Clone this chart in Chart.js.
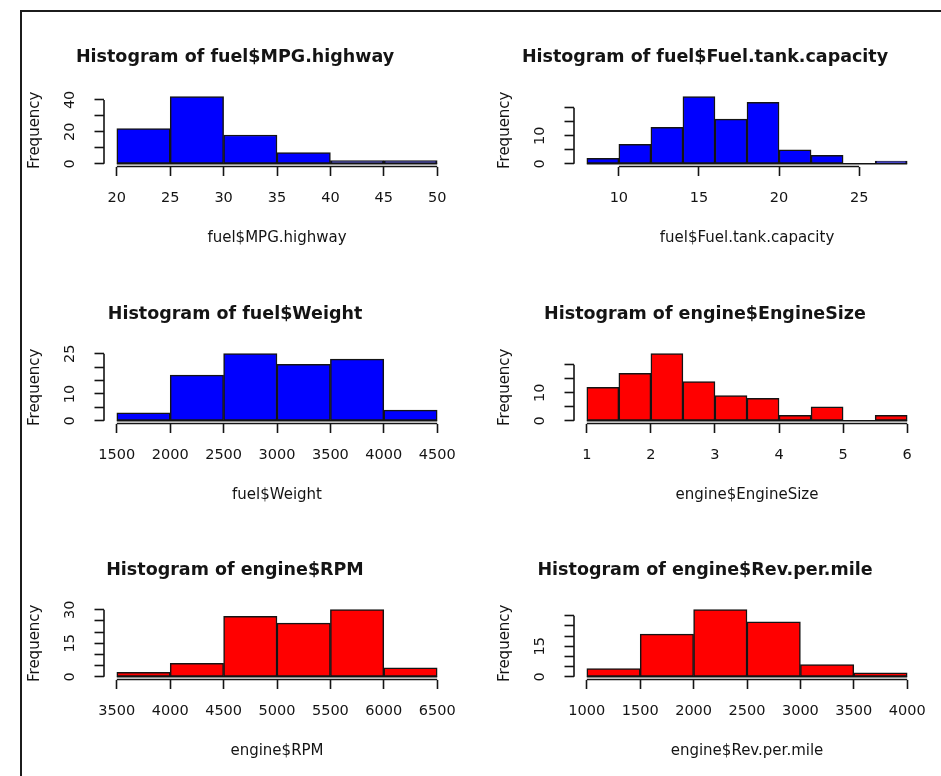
<!DOCTYPE html>
<html>
<head>
<meta charset="utf-8">
<script src="https://cdn.jsdelivr.net/npm/chart.js@4.4.1/dist/chart.umd.min.js"></script>
<style>
  html, body { margin: 0; padding: 0; background: #ffffff; width: 941px; height: 776px; overflow: hidden; }
  #frame { position: absolute; left: 20px; top: 10px; width: 940px; height: 790px;
           border-top: 2px solid #1c1c1c; border-left: 2px solid #1c1c1c; }
  canvas { position: absolute; }
</style>
</head>
<body>
<div id="frame"></div>
<canvas id="c1"></canvas>
<canvas id="c2"></canvas>
<canvas id="c3"></canvas>
<canvas id="c4"></canvas>
<canvas id="c5"></canvas>
<canvas id="c6"></canvas>
<script>
// ---- histogram data: bin breaks and counts per variable ----
const mpgBreaks   = [20, 25, 30, 35, 40, 45, 50];
const mpgCounts   = [22, 42, 18, 7, 2, 2];
const mpgXTicks   = [20, 25, 30, 35, 40, 45, 50];
const mpgYTicks   = [0, 10, 20, 30, 40];
const mpgYLabels  = [0, 20, 40];

const tankBreaks  = [8, 10, 12, 14, 16, 18, 20, 22, 24, 26, 28];
const tankCounts  = [2, 7, 13, 24, 16, 22, 5, 3, 0, 1];
const tankXTicks  = [10, 15, 20, 25];
const tankYTicks  = [0, 5, 10, 15, 20];
const tankYLabels = [0, 10];

const weightBreaks  = [1500, 2000, 2500, 3000, 3500, 4000, 4500];
const weightCounts  = [3, 17, 25, 21, 23, 4];
const weightXTicks  = [1500, 2000, 2500, 3000, 3500, 4000, 4500];
const weightYTicks  = [0, 5, 10, 15, 20, 25];
const weightYLabels = [0, 10, 25];

const engineBreaks  = [1, 1.5, 2, 2.5, 3, 3.5, 4, 4.5, 5, 5.5, 6];
const engineCounts  = [12, 17, 24, 14, 9, 8, 2, 5, 0, 2];
const engineXTicks  = [1, 2, 3, 4, 5, 6];
const engineYTicks  = [0, 5, 10, 15, 20];
const engineYLabels = [0, 10];

const rpmBreaks  = [3500, 4000, 4500, 5000, 5500, 6000, 6500];
const rpmCounts  = [2, 6, 27, 24, 30, 4];
const rpmXTicks  = [3500, 4000, 4500, 5000, 5500, 6000, 6500];
const rpmYTicks  = [0, 5, 10, 15, 20, 25, 30];
const rpmYLabels = [0, 15, 30];

const revBreaks  = [1000, 1500, 2000, 2500, 3000, 3500, 4000];
const revCounts  = [4, 21, 33, 27, 6, 2];
const revXTicks  = [1000, 1500, 2000, 2500, 3000, 3500, 4000];
const revYTicks  = [0, 5, 10, 15, 20, 25, 30];
const revYLabels = [0, 15];

// ---- styling ----
const BLUE = '#0000ff';
const RED  = '#ff0000';
const INK  = '#141414';
const FAMILY = "'DejaVu Sans', 'Liberation Sans', Arial, sans-serif";

// panel geometry (canvas placement; the plot region sits inside with fixed margins)
const MARGIN_L = 84, MARGIN_R = 84, MARGIN_TOP = 70, MARGIN_BOTTOM = 90.5;
const PLOT_W = 346, PLOT_H = 72.5;
const COL_LEFT = [20, 490];
const ROW_TOP  = [24, 281, 537];

const panels = [
  { id: 'c1', col: 0, row: 0, title: 'Histogram of fuel$MPG.highway', xTitle: 'fuel$MPG.highway',
    breaks: mpgBreaks, counts: mpgCounts, xTicks: mpgXTicks, yTicks: mpgYTicks, yLabels: mpgYLabels, color: BLUE },
  { id: 'c2', col: 1, row: 0, title: 'Histogram of fuel$Fuel.tank.capacity', xTitle: 'fuel$Fuel.tank.capacity',
    breaks: tankBreaks, counts: tankCounts, xTicks: tankXTicks, yTicks: tankYTicks, yLabels: tankYLabels, color: BLUE },
  { id: 'c3', col: 0, row: 1, title: 'Histogram of fuel$Weight', xTitle: 'fuel$Weight',
    breaks: weightBreaks, counts: weightCounts, xTicks: weightXTicks, yTicks: weightYTicks, yLabels: weightYLabels, color: BLUE },
  { id: 'c4', col: 1, row: 1, title: 'Histogram of engine$EngineSize', xTitle: 'engine$EngineSize',
    breaks: engineBreaks, counts: engineCounts, xTicks: engineXTicks, yTicks: engineYTicks, yLabels: engineYLabels, color: RED },
  { id: 'c5', col: 0, row: 2, title: 'Histogram of engine$RPM', xTitle: 'engine$RPM',
    breaks: rpmBreaks, counts: rpmCounts, xTicks: rpmXTicks, yTicks: rpmYTicks, yLabels: rpmYLabels, color: RED },
  { id: 'c6', col: 1, row: 2, title: 'Histogram of engine$Rev.per.mile', xTitle: 'engine$Rev.per.mile',
    breaks: revBreaks, counts: revCounts, xTicks: revXTicks, yTicks: revYTicks, yLabels: revYLabels, color: RED }
];

// axis lines that run only from the first to the last tick, as base R draws them,
// plus the shared baseline under every bin (empty bins show only this edge)
const axisLines = {
  id: 'axisLines',
  afterDatasetsDraw(chart, args, opts) {
    const { ctx, scales: { x, y } } = chart;
    const br = opts.breaks;
    ctx.save();
    ctx.strokeStyle = INK;
    ctx.lineWidth = 1.5;
    ctx.beginPath();
    ctx.moveTo(x.getPixelForValue(br[0]), y.getPixelForValue(0));
    ctx.lineTo(x.getPixelForValue(br[br.length - 1]), y.getPixelForValue(0));
    ctx.stroke();
    ctx.restore();
  },
  afterDraw(chart) {
    const { ctx, chartArea, scales: { x, y } } = chart;
    const xt = x.ticks, yt = y.ticks;
    ctx.save();
    ctx.strokeStyle = INK;
    ctx.lineWidth = 1.6;
    ctx.beginPath();
    ctx.moveTo(x.getPixelForValue(xt[0].value), chartArea.bottom);
    ctx.lineTo(x.getPixelForValue(xt[xt.length - 1].value), chartArea.bottom);
    ctx.moveTo(chartArea.left, y.getPixelForValue(yt[0].value));
    ctx.lineTo(chartArea.left, y.getPixelForValue(yt[yt.length - 1].value));
    ctx.stroke();
    ctx.restore();
  }
};

function makeHistogram(p) {
  const canvas = document.getElementById(p.id);
  const W = MARGIN_L + PLOT_W + MARGIN_R;
  const H = MARGIN_TOP + PLOT_H + MARGIN_BOTTOM;
  canvas.width = W; canvas.height = H;
  canvas.style.width = W + 'px'; canvas.style.height = H + 'px';
  canvas.style.left = COL_LEFT[p.col] + 'px';
  canvas.style.top = ROW_TOP[p.row] + 'px';

  // one bar per bin, centred on the bin midpoint
  const points = p.counts.map((c, i) => ({ x: (p.breaks[i] + p.breaks[i + 1]) / 2, y: c }));
  const lo = p.breaks[0], hi = p.breaks[p.breaks.length - 1];
  const xPad = 0.04 * (hi - lo);
  const yMax = Math.max(...p.counts);

  new Chart(canvas, {
    type: 'bar',
    data: {
      datasets: [{
        data: points,
        backgroundColor: p.color,
        borderColor: INK,
        borderWidth: 1.5,
        borderSkipped: false,
        barPercentage: 1.0,
        categoryPercentage: 1.0
      }]
    },
    options: {
      responsive: false,
      animation: false,
      events: [],
      layout: { padding: { left: 0, right: MARGIN_R, top: 0, bottom: 0 } },
      plugins: {
        legend: { display: false },
        tooltip: { enabled: false },
        axisLines: { breaks: p.breaks },
        title: {
          display: true,
          text: p.title,
          color: INK,
          font: { family: FAMILY, size: 17.5, weight: 'bold' },
          padding: { top: 22.5, bottom: 26.5 }
        }
      },
      scales: {
        x: {
          type: 'linear',
          offset: false,
          min: lo - xPad,
          max: hi + xPad,
          afterBuildTicks: (s) => { s.ticks = p.xTicks.map(v => ({ value: v })); },
          afterFit: (s) => { s.height = MARGIN_BOTTOM; },
          border: { display: false },
          grid: { display: true, offset: false, drawOnChartArea: false, drawTicks: true,
                  tickLength: 9.5, tickColor: INK, tickWidth: 1.6 },
          ticks: { autoSkip: false, minRotation: 0, maxRotation: 0, padding: 13.4, color: INK,
                   font: { family: FAMILY, size: 14.5 }, callback: (v) => String(v) },
          title: { display: true, text: p.xTitle, color: INK,
                   font: { family: FAMILY, size: 15 }, padding: { top: 0, bottom: 9.7 } }
        },
        y: {
          type: 'linear',
          min: -0.04 * yMax,
          max: 1.04 * yMax,
          afterBuildTicks: (s) => { s.ticks = p.yTicks.map(v => ({ value: v })); },
          afterFit: (s) => { s.width = MARGIN_L; },
          border: { display: false },
          grid: { display: true, drawOnChartArea: false, drawTicks: true,
                  tickLength: 9.5, tickColor: INK, tickWidth: 1.6 },
          ticks: { autoSkip: false, minRotation: 90, maxRotation: 90, crossAlign: 'center',
                   padding: 15.2, color: INK, font: { family: FAMILY, size: 14.5 },
                   callback: (v) => (p.yLabels.includes(v) ? String(v) : '') },
          title: { display: true, text: 'Frequency', color: INK,
                   font: { family: FAMILY, size: 15 }, padding: { top: 6, bottom: 0 } }
        }
      }
    },
    plugins: [axisLines]
  });
}

panels.forEach(makeHistogram);
</script>
</body>
</html>
